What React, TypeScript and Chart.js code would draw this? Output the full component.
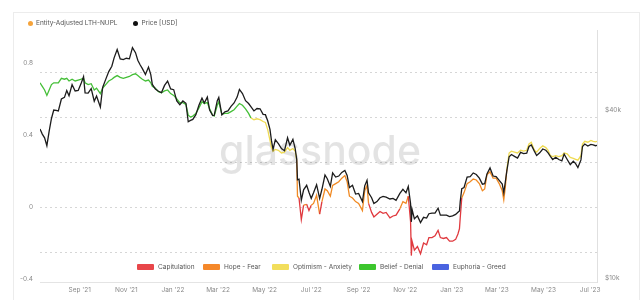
import React, { useEffect, useRef } from "react";
import { Chart, registerables } from "chart.js";

Chart.register(...registerables);

// ---------- DATA ----------
const dates: string[] = [
  "2021-07-11","2021-07-14","2021-07-17","2021-07-20","2021-07-23","2021-07-26","2021-07-29",
  "2021-08-01","2021-08-04","2021-08-08","2021-08-12","2021-08-15","2021-08-18","2021-08-22","2021-08-26","2021-08-30",
  "2021-09-03","2021-09-06","2021-09-08","2021-09-12","2021-09-16","2021-09-20","2021-09-23","2021-09-28",
  "2021-10-01","2021-10-05","2021-10-09","2021-10-13","2021-10-16","2021-10-20","2021-10-24","2021-10-28",
  "2021-11-01","2021-11-05","2021-11-09","2021-11-13","2021-11-16","2021-11-19","2021-11-22","2021-11-26","2021-11-30",
  "2021-12-03","2021-12-05","2021-12-09","2021-12-13","2021-12-17","2021-12-21","2021-12-25","2021-12-29",
  "2022-01-02","2022-01-06","2022-01-10","2022-01-14","2022-01-18","2022-01-21","2022-01-24","2022-01-27","2022-01-31",
  "2022-02-04","2022-02-08","2022-02-11","2022-02-15","2022-02-18","2022-02-22","2022-02-24","2022-02-28",
  "2022-03-02","2022-03-06","2022-03-10","2022-03-14","2022-03-18","2022-03-22","2022-03-26","2022-03-29",
  "2022-04-02","2022-04-06","2022-04-10","2022-04-13","2022-04-17","2022-04-21","2022-04-25","2022-04-29",
  "2022-05-02","2022-05-05","2022-05-08","2022-05-10","2022-05-12","2022-05-15","2022-05-19","2022-05-23","2022-05-27","2022-05-31",
  "2022-06-03","2022-06-07","2022-06-10","2022-06-12","2022-06-13","2022-06-15","2022-06-18","2022-06-21","2022-06-25","2022-06-28",
  "2022-07-01","2022-07-04","2022-07-08","2022-07-12","2022-07-15","2022-07-19","2022-07-22","2022-07-26","2022-07-29",
  "2022-08-02","2022-08-06","2022-08-10","2022-08-14","2022-08-17","2022-08-20","2022-08-24","2022-08-28",
  "2022-09-01","2022-09-06","2022-09-09","2022-09-12","2022-09-14","2022-09-18","2022-09-21","2022-09-25","2022-09-29",
  "2022-10-03","2022-10-07","2022-10-12","2022-10-16","2022-10-20","2022-10-25","2022-10-29",
  "2022-11-02","2022-11-05","2022-11-08","2022-11-09","2022-11-10","2022-11-13","2022-11-17","2022-11-21","2022-11-25","2022-11-29",
  "2022-12-02","2022-12-06","2022-12-10","2022-12-14","2022-12-17","2022-12-21","2022-12-25","2022-12-29",
  "2023-01-02","2023-01-06","2023-01-09","2023-01-11","2023-01-12","2023-01-14","2023-01-17","2023-01-21","2023-01-25","2023-01-29",
  "2023-02-02","2023-02-06","2023-02-10","2023-02-13","2023-02-16","2023-02-20","2023-02-24","2023-02-28",
  "2023-03-04","2023-03-08","2023-03-10","2023-03-12","2023-03-14","2023-03-17","2023-03-20","2023-03-24","2023-03-28",
  "2023-04-01","2023-04-05","2023-04-09","2023-04-12","2023-04-15","2023-04-19","2023-04-22","2023-04-26","2023-04-30",
  "2023-05-04","2023-05-07","2023-05-10","2023-05-13","2023-05-17","2023-05-21","2023-05-25","2023-05-28",
  "2023-06-01","2023-06-05","2023-06-09","2023-06-12","2023-06-15","2023-06-19","2023-06-21","2023-06-24","2023-06-28",
  "2023-07-02","2023-07-05","2023-07-08","2023-07-10",
];

const priceUsd: number[] = [
  34200,32800,31800,29800,33600,37300,40000,
  39900,39700,43800,44400,47000,45000,49300,46800,47000,
  50000,52700,46100,46000,47700,43000,44900,41000,
  48200,51500,54900,57400,61500,65900,61000,60600,
  61300,61000,66900,64200,60300,58100,56300,53600,57000,
  53600,49400,47600,46700,46200,49000,50800,47600,
  47300,43100,41800,43100,42300,36300,36700,37000,38500,
  41600,44100,42400,44500,40000,38200,38300,43200,
  44400,38400,39400,39700,41200,42400,44500,47400,
  45800,43200,42200,41100,39700,40500,40400,38600,
  38500,36600,34100,31000,28900,31300,30300,29100,28600,31800,
  29900,31400,29100,26600,22500,22600,19000,20700,21500,20300,
  19300,20200,21600,19300,20800,23400,22700,21300,23800,
  23000,23200,23900,24300,23300,21100,21500,20000,
  20100,18800,21400,22400,20200,19400,18500,18800,19400,
  19600,19500,19200,19300,19000,20100,20800,
  20200,21300,18500,15900,17600,16300,16700,15800,16500,16400,
  17000,17100,17100,17800,16800,16800,16800,16600,
  16700,16900,17200,17400,18800,20900,21100,23000,23100,23800,
  23500,22800,21700,21800,23600,24800,23200,23100,
  22400,21700,20200,22100,24200,27200,27700,27300,26900,
  28200,27900,28000,29600,30000,28500,27500,28100,29000,
  28700,28100,27300,26600,27100,26600,26300,27800,
  26600,25500,26200,25700,24900,26500,29600,30200,29700,
  30100,30000,29800,29900,
];

const lthNupl: number[] = [
  0.69,0.67,0.65,0.62,0.65,0.68,0.69,
  0.69,0.69,0.715,0.71,0.715,0.70,0.71,0.70,0.705,
  0.71,0.715,0.69,0.68,0.685,0.65,0.66,0.63,
  0.66,0.68,0.70,0.71,0.72,0.73,0.72,0.715,
  0.72,0.725,0.735,0.74,0.73,0.72,0.71,0.70,0.705,
  0.69,0.67,0.66,0.64,0.635,0.645,0.65,0.63,
  0.62,0.60,0.58,0.58,0.57,0.51,0.50,0.505,0.52,
  0.55,0.585,0.575,0.58,0.545,0.51,0.505,0.565,
  0.585,0.515,0.52,0.52,0.53,0.54,0.56,0.575,
  0.565,0.545,0.52,0.495,0.485,0.49,0.485,0.475,
  0.47,0.43,0.37,0.33,0.31,0.32,0.315,0.30,0.305,0.33,
  0.315,0.325,0.31,0.26,0.06,0.05,-0.07,0.01,0.015,-0.02,
  0.01,0.02,0.065,-0.04,0.03,0.10,0.09,0.06,0.12,
  0.13,0.14,0.16,0.175,0.14,0.06,0.05,0.03,
  0.02,-0.02,0.09,0.12,0.02,-0.03,-0.055,-0.04,-0.025,
  -0.035,-0.03,-0.06,-0.05,-0.045,-0.01,0.03,
  0.02,0.06,-0.08,-0.27,-0.19,-0.24,-0.22,-0.26,-0.20,-0.21,
  -0.17,-0.17,-0.16,-0.13,-0.17,-0.175,-0.17,-0.19,
  -0.19,-0.18,-0.15,-0.12,-0.06,0.05,0.08,0.13,0.14,0.155,
  0.15,0.13,0.09,0.10,0.18,0.195,0.16,0.16,
  0.13,0.09,0.04,0.11,0.21,0.30,0.31,0.305,0.30,
  0.315,0.31,0.315,0.35,0.36,0.315,0.305,0.325,0.34,
  0.33,0.315,0.285,0.28,0.285,0.28,0.285,0.30,
  0.295,0.275,0.27,0.265,0.26,0.285,0.35,0.365,0.36,
  0.37,0.365,0.362,0.365,
];

const nuplTicks: number[] = [-0.4, 0, 0.4, 0.8];
const zoneBoundaries: number[] = [-0.25, 0, 0.25, 0.5, 0.75];
const priceTicks: number[] = [10000, 40000];
const monthTickDates: string[] = [
  "2021-09-01","2021-11-01","2022-01-01","2022-03-01","2022-05-01","2022-07-01",
  "2022-09-01","2022-11-01","2023-01-01","2023-03-01","2023-05-01","2023-07-01",
];
const monthTickLabels: string[] = [
  "Sep '21","Nov '21","Jan '22","Mar '22","May '22","Jul '22",
  "Sep '22","Nov '22","Jan '23","Mar '23","May '23","Jul '23",
];
const zoneNames: string[] = ["Capitulation", "Hope - Fear", "Optimism - Anxiety", "Belief - Denial", "Euphoria - Greed"];
const zoneUpper: number[] = [0, 0.25, 0.5, 0.75, Infinity];

// ---------- STYLE ----------
const ZONE_LINE_COLORS = ["#e0393e", "#f08a24", "#efdb52", "#45bf38", "#3f5fe0"];
const ZONE_SWATCH_COLORS = ["#e8464a", "#f5882a", "#f2de5c", "#3cc62d", "#4a63e0"];
const LEGEND_X = [137, 203, 272, 359, 432];
const FONT = "Inter, 'Open Sans', sans-serif";

const START = Date.UTC(2021, 6, 11);
const dayOf = (s: string) => {
  const [y, m, d] = s.split("-").map(Number);
  return (Date.UTC(y, m - 1, d) - START) / 86400000;
};
const zoneIndex = (v: number) => {
  for (let i = 0; i < zoneUpper.length; i++) if (v < zoneUpper[i]) return i;
  return zoneUpper.length - 1;
};

const decorPlugin = {
  id: "decor",
  beforeDatasetsDraw(chart: any) {
    const { ctx, chartArea, scales } = chart;
    const yl = scales.yNupl;
    ctx.save();
    ctx.strokeStyle = "#d6d6d6";
    ctx.lineWidth = 1;
    ctx.setLineDash([2, 3]);
    zoneBoundaries.forEach((v) => {
      const y = Math.round(yl.getPixelForValue(v)) + 0.5;
      ctx.beginPath();
      ctx.moveTo(chartArea.left, y);
      ctx.lineTo(chartArea.right, y);
      ctx.stroke();
    });
    ctx.setLineDash([]);
    ctx.font = `500 41px ${FONT}`;
    ctx.fillStyle = "rgba(0,0,0,0.11)";
    ctx.textAlign = "center";
    ctx.textBaseline = "alphabetic";
    ctx.fillText("glassnode", 320, 165);
    ctx.restore();
  },
};

export default function App() {
  const canvasRef = useRef<HTMLCanvasElement | null>(null);

  useEffect(() => {
    document.body.style.margin = "0";
    const days = dates.map(dayOf);
    const tickDays = monthTickDates.map(dayOf);
    const labelMap: Record<number, string> = {};
    tickDays.forEach((d, i) => (labelMap[d] = monthTickLabels[i]));

    const chart = new Chart(canvasRef.current as HTMLCanvasElement, {
      type: "line",
      data: {
        datasets: [
          {
            label: "Price [USD]",
            data: days.map((d, i) => ({ x: d, y: priceUsd[i] })),
            yAxisID: "yPrice",
            borderColor: "#1c1c1c",
            borderWidth: 1.3,
            pointRadius: 0,
            order: 0,
          },
          {
            label: "Entity-Adjusted LTH-NUPL",
            data: days.map((d, i) => ({ x: d, y: lthNupl[i] })),
            yAxisID: "yNupl",
            borderColor: ZONE_LINE_COLORS[2],
            borderWidth: 1.3,
            pointRadius: 0,
            order: 1,
            segment: {
              borderColor: (c: any) =>
                ZONE_LINE_COLORS[zoneIndex((c.p0.parsed.y + c.p1.parsed.y) / 2)],
            },
          },
        ],
      },
      options: {
        animation: false,
        responsive: false,
        maintainAspectRatio: false,
        layout: { padding: { top: 30, left: 0, right: 0, bottom: 0 } },
        plugins: { legend: { display: false }, tooltip: { enabled: false } },
        elements: { line: { tension: 0 } },
        scales: {
          x: {
            type: "linear",
            min: 0,
            max: days[days.length - 1],
            grid: { display: false, drawTicks: false },
            border: { display: true, color: "#e4e4e4" },
            afterBuildTicks: (s: any) => {
              s.ticks = tickDays.map((v) => ({ value: v }));
            },
            afterFit: (s: any) => {
              s.height = 18;
            },
            ticks: {
              autoSkip: false,
              maxRotation: 0,
              padding: 4,
              color: "#8a8a8a",
              font: { family: FONT, size: 6.5 },
              callback: (v: any) => labelMap[v] ?? "",
            },
          },
          yNupl: {
            type: "linear",
            position: "left",
            min: -0.4167,
            max: 0.9833,
            grid: { display: false, drawTicks: false },
            border: { display: false },
            afterBuildTicks: (s: any) => {
              s.ticks = nuplTicks.map((v) => ({ value: v }));
            },
            afterFit: (s: any) => {
              s.width = 40;
            },
            ticks: {
              padding: 7,
              color: "#8a8a8a",
              font: { family: FONT, size: 6.5 },
              callback: (v: any) => (v === 0 ? "0" : Number(v).toFixed(1)),
            },
          },
          yPrice: {
            type: "logarithmic",
            position: "right",
            min: 9680,
            max: 77400,
            grid: { display: false, drawTicks: false },
            border: { display: true, color: "#e0e0e0" },
            afterBuildTicks: (s: any) => {
              s.ticks = priceTicks.map((v) => ({ value: v }));
            },
            afterFit: (s: any) => {
              s.width = 43;
            },
            ticks: {
              padding: 8,
              color: "#8a8a8a",
              font: { family: FONT, size: 6.5 },
              callback: (v: any) => `$${Math.round(Number(v) / 1000)}k`,
            },
          },
        },
      } as any,
      plugins: [decorPlugin],
    });
    return () => chart.destroy();
  }, []);

  const textStyle: React.CSSProperties = {
    fontFamily: FONT,
    fontSize: 6.5,
    color: "#555",
    lineHeight: "8px",
    whiteSpace: "nowrap",
  };

  return (
    <div style={{ position: "relative", width: 640, height: 300, background: "#fff", overflow: "hidden" }}>
      <canvas ref={canvasRef} width={640} height={300} style={{ display: "block", position: "absolute", left: 0, top: 0 }} />
      <div
        style={{
          position: "absolute",
          left: 13,
          top: 12,
          width: 625,
          height: 300,
          border: "1px solid #ececec",
          pointerEvents: "none",
        }}
      />
      <div style={{ position: "absolute", left: 28, top: 19, display: "flex", alignItems: "center", ...textStyle }}>
        <span style={{ width: 5, height: 5, borderRadius: 3, background: "#f5a33a", marginRight: 3 }} />
        <span>Entity-Adjusted LTH-NUPL</span>
        <span style={{ width: 5, height: 5, borderRadius: 3, background: "#111", marginLeft: 16, marginRight: 3 }} />
        <span>Price [USD]</span>
      </div>
      {zoneNames.map((name, i) => (
        <div
          key={name}
          style={{ position: "absolute", left: LEGEND_X[i], top: 263, display: "flex", alignItems: "center", ...textStyle }}
        >
          <span style={{ width: 17, height: 6, borderRadius: 1, background: ZONE_SWATCH_COLORS[i], marginRight: 4 }} />
          <span>{name}</span>
        </div>
      ))}
    </div>
  );
}
